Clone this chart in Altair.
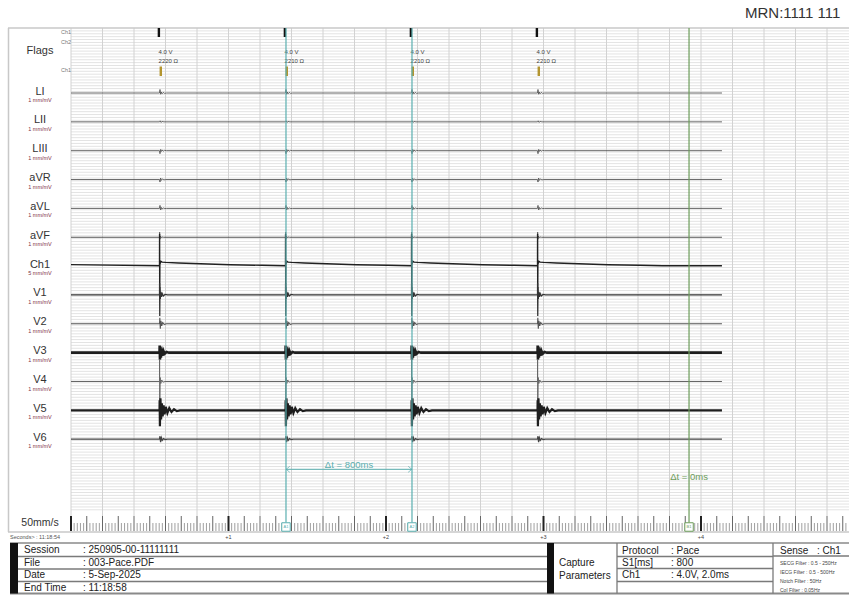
import altair as alt
import numpy as np
import pandas as pd

W, H = 849, 597
FONT = "Liberation Sans"

# ---------------- recording content ----------------
# times in seconds after 11:18:54
pace_times = [0.562, 1.362, 2.162, 2.962]
pace_volts = ["4.0 V", "4.0 V", "4.0 V", "4.0 V"]
pace_ohms = ["2220 Ω", "2210 Ω", "2210 Ω", "2210 Ω"]
cursor_a_times = [1.365, 2.165]
cursor_a_names = ["A1", "A2"]
cursor_b_time = 3.924
cursor_b_name = "B1"
delta_a_text = "Δt = 800ms"
delta_b_text = "Δt = 0ms"
trace_start, trace_end = 0.0, 4.133
second_times = [1, 2, 3, 4]
second_labels = ["+1", "+2", "+3", "+4"]

leads = ["LI", "LII", "LIII", "aVR", "aVL", "aVF", "Ch1",
         "V1", "V2", "V3", "V4", "V5", "V6"]
lead_gain = ["1 mm/mV"] * 6 + ["5 mm/mV"] + ["1 mm/mV"] * 6

# deflection after each stimulus: offsets (ms) and deflection (up positive)
templates = {
    "LI":   ([0, 3, 7, 11, 16, 23, 32, 45], [0, 3.5, -1.2, 1.0, -0.8, 0.6, -0.3, 0]),
    "LII":  ([0, 4, 9, 16, 28], [0, 1.0, -0.6, 0.4, 0]),
    "LIII": ([0, 3, 7, 11, 16, 23, 32, 45], [0, -3.0, 1.2, -0.8, 0.8, -0.5, 0.3, 0]),
    "aVR":  ([0, 3, 7, 12, 18, 28, 40], [0, -2.5, 1.5, -0.8, 0.6, -0.3, 0]),
    "aVL":  ([0, 3, 7, 11, 16, 24, 34, 45], [0, 3.0, -1.5, 1.0, -0.8, 0.5, -0.2, 0]),
    "aVF":  ([0, 0.8, 2, 5, 9, 15, 25], [0, 5, -2, 1.2, -0.6, 0.3, 0]),
    "Ch1":  ([0, 0.5, 1.3, 2.5, 5, 9, 16, 40, 120, 260, 450, 650, 795],
             [0.3, 32, -26, 5, 3.0, 4.8, 4.0, 3.7, 3.1, 2.3, 1.4, 0.8, 0.4]),
    "V1":   ([0, 0.5, 1.5, 3, 5, 8, 12, 17, 24, 35, 50],
             [0, 12, -21, 8, -4, 3, -2, 1.5, -1, 0.5, 0]),
    "V2":   ([0, 2, 5, 9, 14, 20, 30, 45], [0, 6, -5, 3, -2, 1.2, -0.5, 0]),
    "V3":   ([0, 1, 3, 6, 9, 13, 18, 24, 32, 45, 60],
             [0, 7, -7, 6, -5, 4, -3, 2, -1.2, 0.6, 0]),
    "V4":   ([0, 0.5, 1.5, 4, 8, 14, 22, 35], [0, 22, -25, 4, -2, 1.5, -0.6, 0]),
    "V5":   ([0, 0.8, 2.5, 6, 10, 15, 20, 26, 32, 40, 50, 62, 76, 92, 110, 130],
             [0, 10, -16, 12, -9, 7, -6, 5, -4, 3.5, -2.8, 2.2, -1.6, 1.2, -0.7, 0]),
    "V6":   ([0, 3, 7, 12, 18, 26, 36, 50], [0, 3, -3, 1.5, -1, 0.6, -0.3, 0]),
}
start_level = {"Ch1": 1.5}
end_level = {"Ch1": 0.3}

session_keys = ["Session", "File", "Date", "End Time"]
session_vals = [": 250905-00-11111111", ": 003-Pace.PDF", ": 5-Sep-2025", ": 11:18:58"]
capture_keys = ["Protocol", "S1[ms]", "Ch1"]
capture_vals = [": Pace", ": 800", ": 4.0V, 2.0ms"]
filter_lines = ["SECG Filter : 0.5 - 250Hz", "IECG Filter : 0.5 - 500Hz",
                "Notch Filter : 50Hz", "Col Filter : 0.05Hz"]

# ---------------- layout ----------------
PLOT_LEFT = 71.0
PX_PER_S = 157.5
GRID_TOP, GRID_BOTTOM, RULER_BOTTOM = 28, 516, 531
FIRST_ROW, ROW_PITCH = 93.0, 28.85
view_end = (W - PLOT_LEFT) / PX_PER_S

TX = alt.Scale(domain=[-PLOT_LEFT / PX_PER_S, view_end], nice=False, zero=False)
PX = alt.Scale(domain=[0, W], nice=False, zero=False)
PY = alt.Scale(domain=[0, H], reverse=True, nice=False, zero=False)

TEAL = "#5aafb0"
GREEN = "#6c9c5a"
GOLD = "#b3952f"
GAIN_COL = "#7d3245"

style = {
    "LI": ("#555", 0.9), "LII": ("#555", 0.9), "LIII": ("#555", 0.9),
    "aVR": ("#555", 0.9), "aVL": ("#555", 0.9), "aVF": ("#555", 1.0),
    "Ch1": ("#222", 1.4), "V1": ("#333", 1.3), "V2": ("#555", 1.1),
    "V3": ("#1e1e1e", 2.6), "V4": ("#666", 1.0), "V5": ("#1e1e1e", 2.2),
    "V6": ("#444", 1.3),
}
baselines = {ld: FIRST_ROW + i * ROW_PITCH for i, ld in enumerate(leads)}


def X(field="x", scale=PX):
    return alt.X(f"{field}:Q", scale=scale, axis=None)


def Y(field="y"):
    return alt.Y(f"{field}:Q", scale=PY, axis=None)


def rules_px(df):
    return alt.Chart(df).mark_rule().encode(
        x=X("x"), x2="x2:Q", y=Y("y"), y2="y2:Q",
        strokeWidth=alt.StrokeWidth("sw:Q", scale=None),
        color=alt.Color("col:N", scale=None))


def rules_t(df):
    return alt.Chart(df).mark_rule().encode(
        x=X("t", TX), y=Y("y"), y2="y2:Q",
        strokeWidth=alt.StrokeWidth("sw:Q", scale=None),
        color=alt.Color("col:N", scale=None))


def texts(df, align="left", field="x", scale=PX):
    return alt.Chart(df).mark_text(align=align, baseline="middle", font=FONT).encode(
        x=X(field, scale), y=Y("y"), text="txt:N",
        size=alt.Size("fs:Q", scale=None),
        color=alt.Color("col:N", scale=None))


# ---------------- grid ----------------
hgrid_y = np.arange(GRID_TOP + 2.9, 512.5, 2.885)
hgrid = pd.DataFrame({"x": PLOT_LEFT, "x2": W, "y": hgrid_y, "y2": hgrid_y,
                      "sw": 1.0, "col": "#e3e3e3"})
vgrid_t = np.arange(0, view_end + 1e-6, 0.2)
vgrid = pd.DataFrame({"t": vgrid_t, "y": GRID_TOP, "y2": GRID_BOTTOM,
                      "sw": 1.0, "col": "#d2d2d2"})

# ruler ticks along the bottom of the recording
tick_rows = []
for k in range(int(view_end / 0.02) + 1):
    t = k * 0.02
    if k % 50 == 0:
        tick_rows.append((t, 516, RULER_BOTTOM, 2.0, "#222"))
    elif k % 5 == 0:
        tick_rows.append((t, 516, RULER_BOTTOM, 1.0, "#666"))
    else:
        tick_rows.append((t, 523, RULER_BOTTOM, 0.8, "#888"))
ruler = pd.DataFrame(tick_rows, columns=["t", "y", "y2", "sw", "col"])

# ---------------- traces ----------------
rows = []
for ld in leads:
    dts, defl = templates[ld]
    col, sw = style[ld]
    pts = [(trace_start, start_level.get(ld, 0.0))]
    for p in pace_times:
        pts += [(p + d / 1000.0, a) for d, a in zip(dts, defl)]
    pts.append((trace_end, end_level.get(ld, 0.0)))
    for t, a in pts:
        rows.append({"lead": ld, "t": t, "y": baselines[ld] - a, "col": col, "sw": sw})
traces = pd.DataFrame(rows)

trace_layer = alt.Chart(traces).mark_line(interpolate="linear", strokeJoin="miter").encode(
    x=X("t", TX), y=Y("y"), detail="lead:N",
    color=alt.Color("col:N", scale=None),
    strokeWidth=alt.StrokeWidth("sw:Q", scale=None))

# ---------------- flags ----------------
flag_rows = []
for p in pace_times:
    flag_rows.append((p - 0.004, 28, 37, 2.4, "#111"))
    flag_rows.append((p + 0.008, 66.5, 76, 2.4, GOLD))
flags = pd.DataFrame(flag_rows, columns=["t", "y", "y2", "sw", "col"])
flag_text = pd.DataFrame(
    [{"t": p - 0.006, "y": 52, "txt": v, "fs": 6, "col": "#444"} for p, v in zip(pace_times, pace_volts)] +
    [{"t": p - 0.006, "y": 61, "txt": o, "fs": 6, "col": "#444"} for p, o in zip(pace_times, pace_ohms)])

# ---------------- cursors ----------------
cursors = pd.DataFrame(
    [{"t": t, "y": GRID_TOP, "y2": 522.5, "sw": 1.2, "col": TEAL} for t in cursor_a_times] +
    [{"t": cursor_b_time, "y": GRID_TOP, "y2": 522.5, "sw": 1.2, "col": GREEN}])
cursor_boxes = pd.DataFrame(
    [{"t": t, "y": 527, "col": TEAL, "txt": n} for t, n in zip(cursor_a_times, cursor_a_names)] +
    [{"t": cursor_b_time, "y": 527, "col": GREEN, "txt": cursor_b_name}])
box_layer = alt.Chart(cursor_boxes).mark_point(
    shape="square", filled=True, fill="white", size=72, strokeWidth=1, opacity=1).encode(
    x=X("t", TX), y=Y("y"), stroke=alt.Stroke("col:N", scale=None))
box_text = alt.Chart(cursor_boxes).mark_text(fontSize=4, font=FONT, baseline="middle").encode(
    x=X("t", TX), y=Y("y"), text="txt:N", color=alt.Color("col:N", scale=None))

delta = pd.DataFrame({"t": [cursor_a_times[0]], "t2": [cursor_a_times[1]], "y": [469.3]})
delta_line = alt.Chart(delta).mark_rule(color=TEAL, strokeWidth=1).encode(
    x=X("t", TX), x2="t2:Q", y=Y("y"))
chev_l = alt.Chart(delta).mark_point(shape="M 0.6 -1 L -0.6 0 L 0.6 1", size=36, filled=False,
                                     color=TEAL, strokeWidth=1, xOffset=2).encode(
    x=X("t", TX), y=Y("y"))
chev_r = alt.Chart(delta).mark_point(shape="M -0.6 -1 L 0.6 0 L -0.6 1", size=36, filled=False,
                                     color=TEAL, strokeWidth=1, xOffset=-2).encode(
    x=X("t2", TX), y=Y("y"))
delta_text = pd.DataFrame([
    {"t": (cursor_a_times[0] + cursor_a_times[1]) / 2, "y": 464.5, "txt": delta_a_text, "fs": 9.5, "col": TEAL},
    {"t": cursor_b_time, "y": 476.7, "txt": delta_b_text, "fs": 9.5, "col": GREEN},
])

# ---------------- ruler labels ----------------
sec_text = pd.DataFrame({"t": second_times, "y": 536.5, "txt": second_labels, "fs": 5.5, "col": "#444"})

# ---------------- left column labels ----------------
left_rows = [{"x": 40, "y": 51, "txt": "Flags", "fs": 11, "col": "#333"},
             {"x": 40, "y": 522.5, "txt": "50mm/s", "fs": 10.5, "col": "#333"}]
for ld, g in zip(leads, lead_gain):
    b = baselines[ld]
    left_rows.append({"x": 40, "y": b - 1.5, "txt": ld, "fs": 11, "col": "#333"})
    left_rows.append({"x": 40, "y": b + 7, "txt": g, "fs": 5.5, "col": GAIN_COL})
left_labels = pd.DataFrame(left_rows)

flag_row_labels = pd.DataFrame({"x": 71, "y": [32, 42, 70], "txt": ["Ch1", "Ch2", "Ch1"],
                                "fs": 5.5, "col": "#777"})

# ---------------- frame and info table ----------------
frame = pd.DataFrame([
    (8, W, 28, 28, 1.5, "#c8c8c8"),
    (8.5, 8.5, 28, 532, 1.5, "#c8c8c8"),
    (8, W, 532, 532, 1.5, "#c8c8c8"),
    (10, W, 543, 543, 1.3, "#8a8a8a"),
    (10, W, 593.5, 593.5, 2.0, "#8a8a8a"),
    (18, 547, 556.5, 556.5, 1.3, "#7a7a7a"),
    (18, 547, 569, 569, 1.3, "#7a7a7a"),
    (18, 547, 581.5, 581.5, 1.3, "#7a7a7a"),
    (617, 773, 556.5, 556.5, 1.3, "#7a7a7a"),
    (617, 773, 568.5, 568.5, 1.3, "#7a7a7a"),
    (617, 773, 581.5, 581.5, 1.3, "#7a7a7a"),
    (773, W, 556, 556, 1.3, "#7a7a7a"),
    (617, 617, 543, 593.5, 1.3, "#7a7a7a"),
    (773, 773, 543, 593.5, 1.3, "#7a7a7a"),
], columns=["x", "x2", "y", "y2", "sw", "col"])
bars = pd.DataFrame({"x": [10, 547], "x2": [18, 554], "y": [543, 543], "y2": [593.5, 593.5]})
bar_layer = alt.Chart(bars).mark_rect(color="#111").encode(x=X("x"), x2="x2:Q", y=Y("y"), y2="y2:Q")

info_rows = []
for i, (k, v) in enumerate(zip(session_keys, session_vals)):
    y = 550 + i * 12.5
    info_rows.append({"x": 24, "y": y, "txt": k, "fs": 10, "col": "#222"})
    info_rows.append({"x": 83, "y": y, "txt": v, "fs": 10, "col": "#222"})
info_rows.append({"x": 559, "y": 563, "txt": "Capture", "fs": 10, "col": "#222"})
info_rows.append({"x": 559, "y": 576, "txt": "Parameters", "fs": 10, "col": "#222"})
for i, (k, v) in enumerate(zip(capture_keys, capture_vals)):
    y = 550.5 + i * 12.3
    info_rows.append({"x": 622, "y": y, "txt": k, "fs": 10, "col": "#222"})
    info_rows.append({"x": 671, "y": y, "txt": v, "fs": 10, "col": "#222"})
info_rows.append({"x": 780, "y": 550.5, "txt": "Sense", "fs": 10, "col": "#222"})
info_rows.append({"x": 817, "y": 550.5, "txt": ": Ch1", "fs": 10, "col": "#222"})
for i, f in enumerate(filter_lines):
    info_rows.append({"x": 780, "y": 562.5 + i * 9, "txt": f, "fs": 5, "col": "#444"})
info_rows.append({"x": 10, "y": 536.5, "txt": "Seconds>", "fs": 5.5, "col": "#555"})
info_rows.append({"x": 36, "y": 536.5, "txt": ": 11:18:54", "fs": 5.5, "col": "#555"})
info_rows.append({"x": 745, "y": 13, "txt": "MRN:1111 111", "fs": 15, "col": "#333"})
info = pd.DataFrame(info_rows)

chart = alt.layer(
    rules_px(hgrid),
    rules_t(vgrid),
    rules_t(ruler),
    rules_px(frame),
    bar_layer,
    trace_layer,
    rules_t(flags),
    texts(flag_text, "left", "t", TX),
    rules_t(cursors),
    box_layer,
    box_text,
    delta_line,
    chev_l,
    chev_r,
    texts(delta_text, "center", "t", TX),
    texts(sec_text, "center", "t", TX),
    texts(left_labels, "center"),
    texts(flag_row_labels, "right"),
    texts(info, "left"),
).resolve_scale(
    x="independent", y="independent"
).properties(
    width=W, height=H, padding=0, autosize="none", background="white"
).configure_view(stroke=None)

chart.save("out.html", embed_options={"renderer": "svg", "actions": False})
